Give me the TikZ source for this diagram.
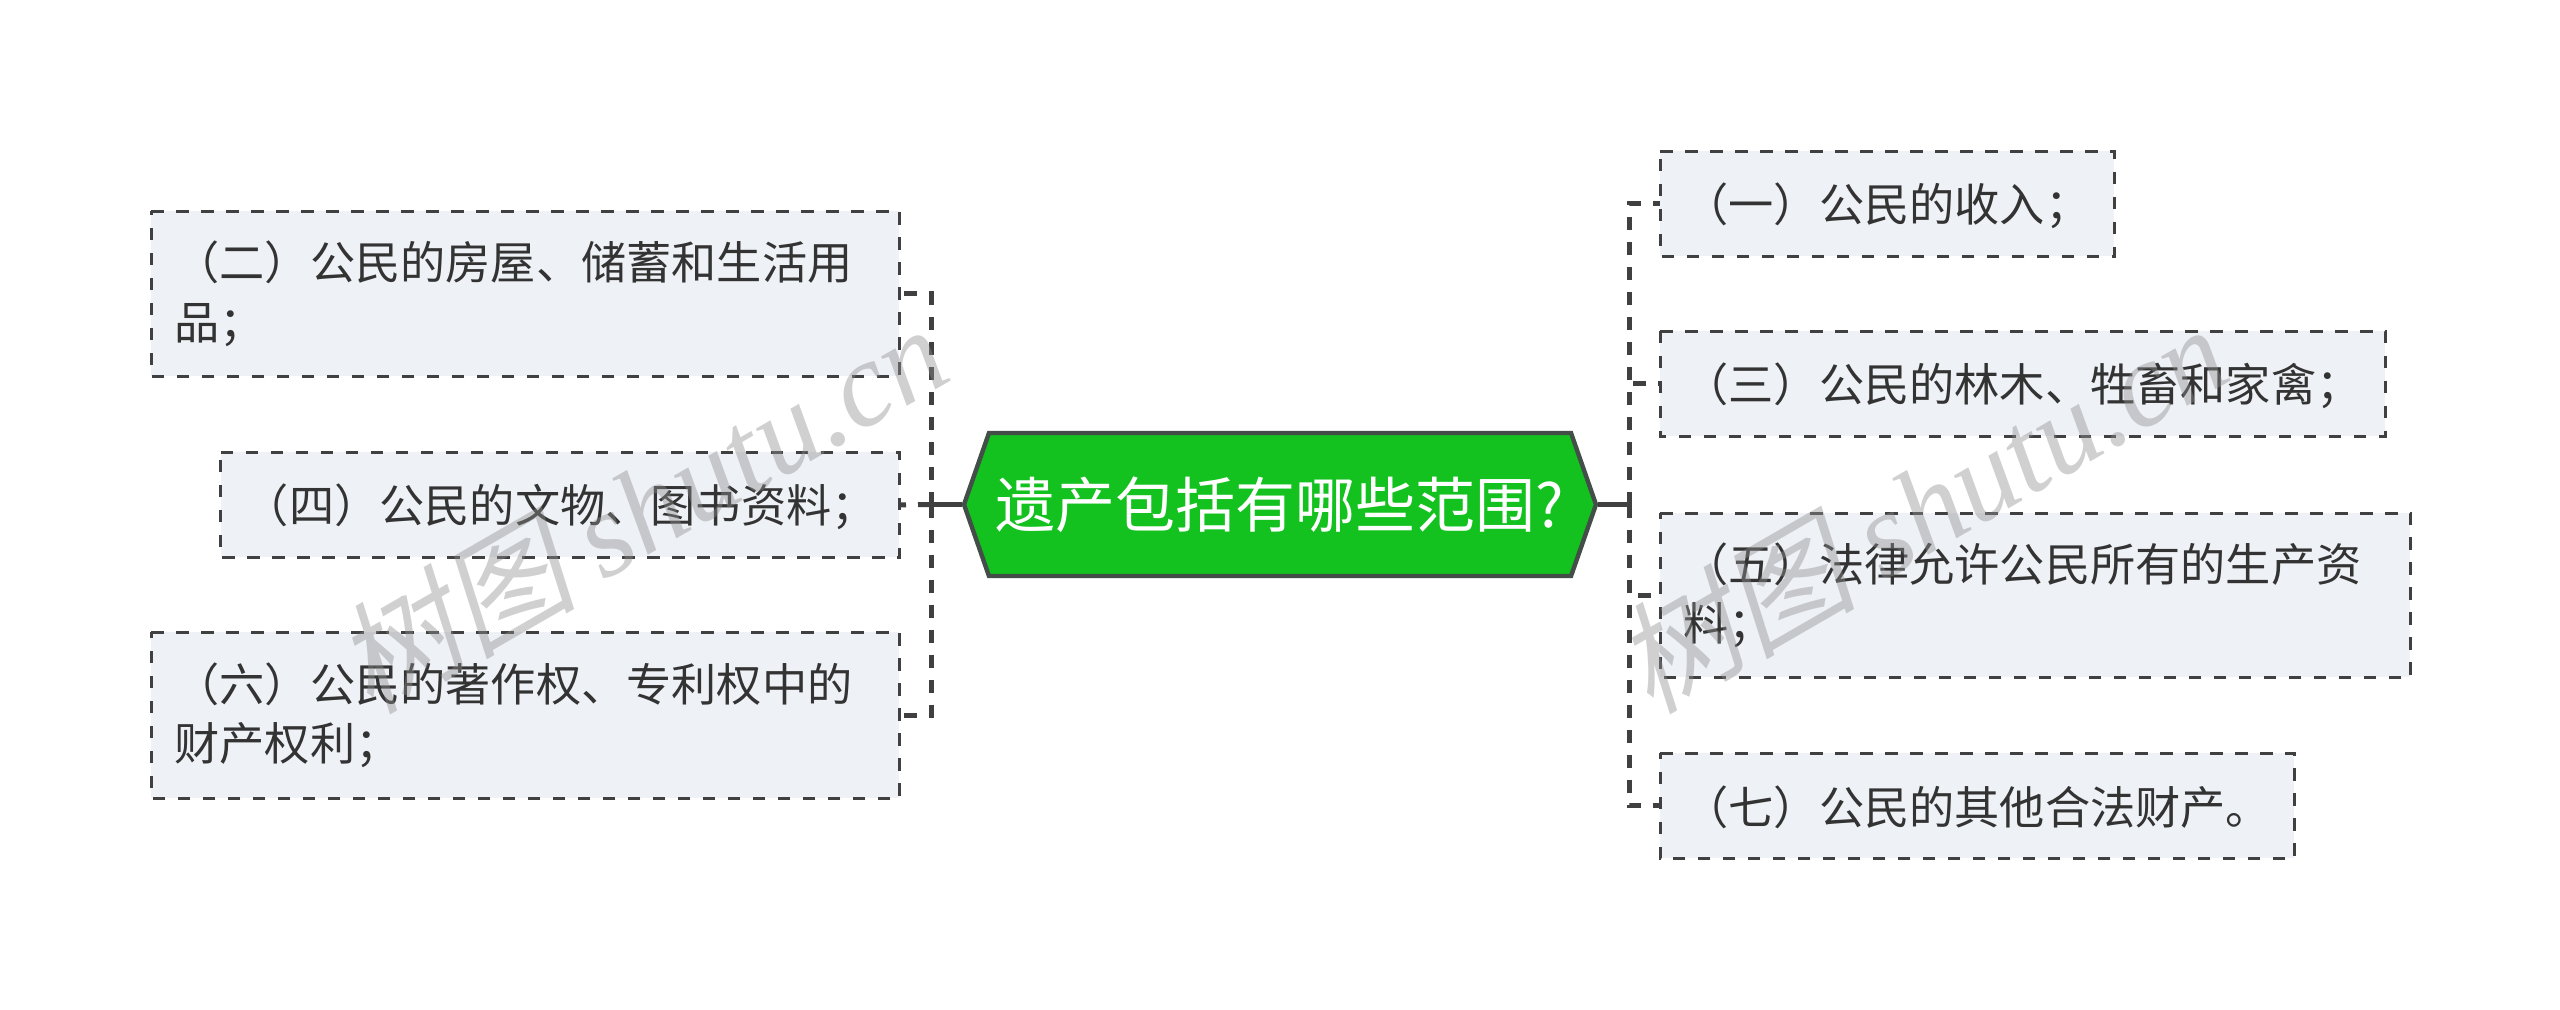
\documentclass[tikz,border=0pt]{standalone}
\usepackage{fontspec}
\setmainfont{Noto Sans CJK SC}
\newfontfamily\wmcjk[FakeSlant=0.22]{Noto Sans CJK SC}
\newfontfamily\wmlat{Liberation Serif}[ItalicFont=* Italic]
\usetikzlibrary{shapes.symbols}
\definecolor{boxfill}{HTML}{EEF1F5}
\definecolor{inkline}{HTML}{404040}
\definecolor{inktext}{HTML}{333333}
\definecolor{rootfill}{HTML}{13C11F}
\definecolor{rootline}{HTML}{424E47}
\definecolor{wmgray}{HTML}{8F8F8F}
\tikzset{
  x=0.5pt,y=-0.5pt,
  topicbox/.style={anchor=north west,fill=boxfill,inner xsep=11.5pt,inner ysep=0pt,align=left,
    text=inktext,font=\fontsize{22.6pt}{30pt}\selectfont,execute at begin node={\vspace*{-1.6pt}}},
  boxedge/.style={draw=inkline,line width=1.5pt,dash pattern=on 6.25pt off 6.25pt},
  rootnode/.style={signal,signal to=east and west,signal pointer angle=141.5,fill=rootfill,draw=rootline,
    line width=2.2pt,text=white,inner sep=0pt,minimum width=316pt,minimum height=71.5pt,
    font=\fontsize{30pt}{36pt}\selectfont},
  solidlink/.style={draw=inkline,line width=2.5pt},
  dashlink/.style={draw=inkline,line width=2.5pt,dash pattern=on 6.5pt off 6pt},
  watermark/.style={text=wmgray,opacity=0.42,rotate=30,font=\fontsize{60.5pt}{66pt}\selectfont},
}
\begin{document}
\begin{tikzpicture}
\useasboundingbox (0,0) rectangle (2560,1009);
\fill[white] (0,0) rectangle (2560,1009);
\coordinate (lt) at (931,504.5);
\coordinate (rt) at (1629,504.5);
\node[topicbox,minimum width=374pt,minimum height=82.5pt,text width=351pt] (b2) at (151,211) {（二）公民的房屋、储蓄和生活用\\[1.3pt]品；};
\node[topicbox,minimum width=339.25pt,minimum height=52.5pt,text width=316.25pt] (b4) at (220.5,452) {（四）公民的文物、图书资料；};
\node[topicbox,minimum width=374pt,minimum height=83pt,text width=351pt] (b6) at (151,632) {（六）公民的著作权、专利权中的\\[1.3pt]财产权利；};
\node[topicbox,minimum width=226.75pt,minimum height=52.5pt,text width=203.75pt] (b1) at (1660,151) {（一）公民的收入；};
\node[topicbox,minimum width=362.25pt,minimum height=52.5pt,text width=339.25pt] (b3) at (1660,331) {（三）公民的林木、牲畜和家禽；};
\node[topicbox,minimum width=375pt,minimum height=82pt,text width=352pt] (b5) at (1660,513) {（五）法律允许公民所有的生产资\\[1.3pt]料；};
\node[topicbox,minimum width=317pt,minimum height=52.5pt,text width=294pt] (b7) at (1660,753) {（七）公民的其他合法财产。};
\foreach \b in {b1,b2,b3,b4,b5,b6,b7}{
  \draw[boxedge] (\b.north west) -- (\b.north east) -- (\b.south east) -- (\b.south west) -- cycle;
}
\node[rootnode] (root) at (1280,504.5) {遗产包括有哪些范围?};
\draw[solidlink] (root.west) -- (lt);
\draw[solidlink] (root.east) -- (rt);
\foreach \b in {b2,b6}{\draw[dashlink] (lt) |- (\b.east);}
\draw[dashlink] (lt) -- (b4.east);
\foreach \b in {b1,b3,b5,b7}{\draw[dashlink] (rt) |- (\b.west);}
\node[watermark] (wm1) at (640,507) {{\wmcjk 树图} {\wmlat\itshape shutu.cn}};
\node[watermark] (wm2) at (1920,507) {{\wmcjk 树图} {\wmlat\itshape shutu.cn}};
\end{tikzpicture}
\end{document}
